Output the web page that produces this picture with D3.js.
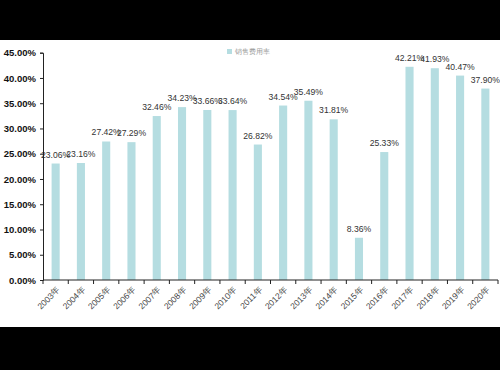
<!DOCTYPE html>
<html>
<head>
<meta charset="utf-8">
<script src="https://cdn.jsdelivr.net/npm/d3@7"></script>
<style>
  html, body { margin: 0; padding: 0; background: #000; }
  #chart { position: absolute; left: 0; top: 40px; width: 500px; height: 287px; background: #fff; }
  svg { display: block; font-family: "Liberation Sans", Arial, sans-serif; }
</style>
</head>
<body>
<div id="chart"></div>
<script>
const years = ["2003年", "2004年", "2005年", "2006年", "2007年", "2008年", "2009年", "2010年", "2011年",
  "2012年", "2013年", "2014年", "2015年", "2016年", "2017年", "2018年", "2019年", "2020年"];
const salesRate = [23.06, 23.16, 27.42, 27.29, 32.46, 34.23, 33.66, 33.64, 26.82,
  34.54, 35.49, 31.81, 8.36, 25.33, 42.21, 41.93, 40.47, 37.90];
const yTicks = [0, 5, 10, 15, 20, 25, 30, 35, 40, 45];
const seriesName = "销售费用率";

const width = 500, height = 287;
// chart div starts at y=40, so plot coords are page coords minus 40
const margin = { left: 43, right: 2, top: 12.7, bottom: 47 };

const svg = d3.select("#chart").append("svg")
  .attr("width", width)
  .attr("height", height);

const x = d3.scaleBand()
  .domain(years)
  .range([margin.left, width - margin.right])
  .paddingInner(0.68)
  .paddingOuter(0.34);

const y = d3.scaleLinear()
  .domain([0, 45])
  .range([height - margin.bottom, margin.top]);

// bars
svg.append("g").selectAll("rect")
  .data(salesRate)
  .enter().append("rect")
  .attr("x", (d, i) => x(years[i]))
  .attr("y", d => y(d))
  .attr("width", x.bandwidth())
  .attr("height", d => y(0) - y(d))
  .attr("fill", "#b5dde1");

// value labels
svg.append("g").selectAll("text")
  .data(salesRate)
  .enter().append("text")
  .attr("x", (d, i) => x(years[i]) + x.bandwidth() / 2)
  .attr("y", d => y(d) - 6)
  .attr("text-anchor", "middle")
  .attr("font-size", "8.6px")
  .attr("fill", "#333")
  .text(d => d.toFixed(2) + "%");

// y axis
const yAxis = svg.append("g")
  .attr("transform", `translate(${margin.left},0)`)
  .call(d3.axisLeft(y).tickValues(yTicks).tickSize(3).tickFormat(d => d.toFixed(2) + "%"));
yAxis.select(".domain").attr("stroke", "#222");
yAxis.selectAll(".tick line").attr("stroke", "#222");
yAxis.selectAll(".tick text")
  .attr("x", -7)
  .attr("font-size", "9.5px")
  .attr("font-weight", "bold")
  .attr("fill", "#111")
  .attr("font-family", "'Liberation Sans', Arial, sans-serif");

// x axis: ticks on category boundaries
const xAxis = svg.append("g")
  .attr("transform", `translate(0,${y(0)})`);
xAxis.append("line")
  .attr("x1", margin.left).attr("x2", width - margin.right)
  .attr("stroke", "#222");
const step = x.step();
xAxis.selectAll(".bnd")
  .data(d3.range(years.length + 1))
  .enter().append("line")
  .attr("class", "bnd")
  .attr("x1", i => margin.left + i * step)
  .attr("x2", i => margin.left + i * step)
  .attr("y1", 0).attr("y2", 4)
  .attr("stroke", "#222");
xAxis.selectAll(".lbl")
  .data(years)
  .enter().append("text")
  .attr("class", "lbl")
  .attr("transform", d => `translate(${x(d) + x.bandwidth() / 2 + 3},${8}) rotate(-45)`)
  .attr("text-anchor", "end")
  .attr("dy", "0.35em")
  .attr("font-size", "8.5px")
  .attr("fill", "#444")
  .text(d => d);

// legend
const legend = svg.append("g").attr("transform", "translate(227,9)");
legend.append("rect")
  .attr("width", 5).attr("height", 5)
  .attr("fill", "#b5dde1");
legend.append("text")
  .attr("x", 8).attr("y", 2.5)
  .attr("dy", "0.35em")
  .attr("font-size", "7px")
  .attr("fill", "#999")
  .text(seriesName);
</script>
</body>
</html>
